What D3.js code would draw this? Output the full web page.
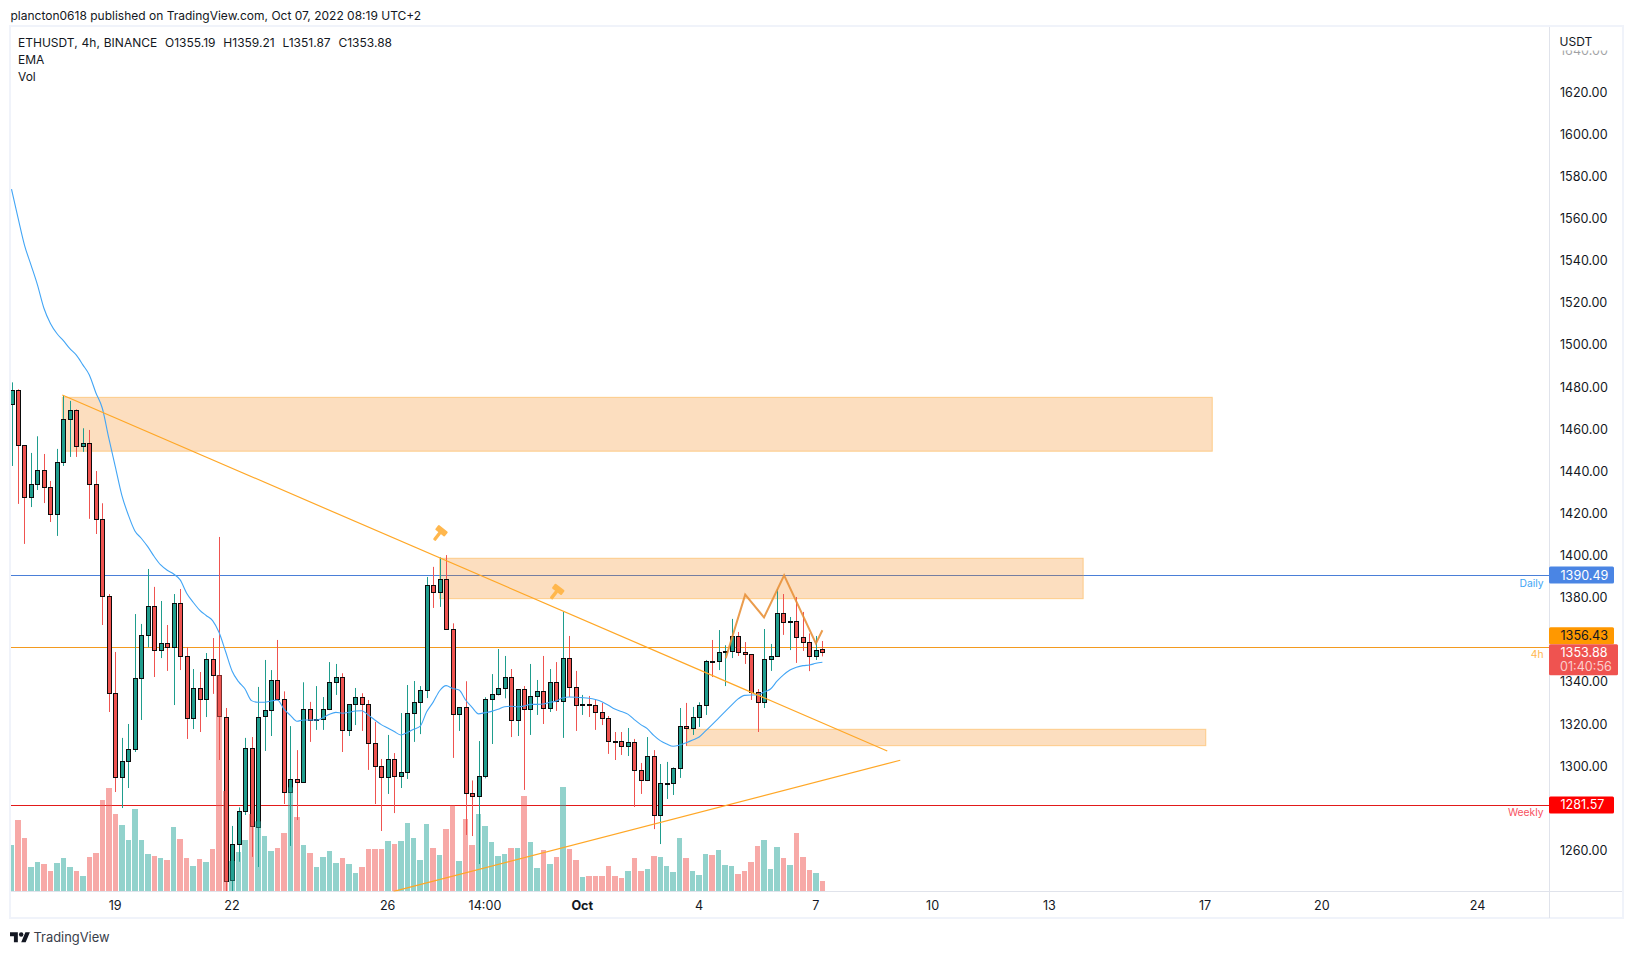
<!DOCTYPE html>
<html>
<head>
<meta charset="utf-8">
<script src="https://cdn.jsdelivr.net/npm/d3@7"></script>
<style>
html, body { margin: 0; padding: 0; background: #fff; overflow: hidden; }
text { font-family: Inter, "Liberation Sans", sans-serif; }
</style>
</head>
<body>
<div id="chart"></div>
<script>
// candle values, one entry per 4h candle
var opens = [
  1471.6,1478.2,1452.1,1427.4,1433.6,1440.3,1432.2,1419.4,1444.1,1464.5,
  1468.8,1451.7,1453.1,1433.6,1417.0,1380.4,1334.4,1294.5,1302.1,1307.8,
  1341.5,1361.9,1375.7,1354.8,1358.1,1356.2,1377.1,1351.9,1322.5,1336.7,
  1331.5,1350.5,1342.9,1323.3,1245.6,1262.7,1278.3,1308.3,1271.1,1323.3,
  1326.3,1340.5,1331.5,1287.4,1293.5,1292.1,1326.8,1321.5,1322.0,1326.8,
  1339.6,1342.0,1316.8,1329.1,1332.5,1329.1,1310.6,1299.7,1294.5,1303.0,
  1295.0,1296.8,1324.9,1330.1,1335.8,1385.6,1382.3,1388.5,1364.8,1324.4,
  1327.7,1286.9,1285.5,1295.0,1331.5,1333.9,1336.7,1342.0,1321.5,1336.3,
  1326.8,1332.9,1335.3,1327.2,1339.6,1330.6,1351.0,1337.2,1328.7,1329.1,
  1328.7,1325.3,1322.5,1311.6,1311.6,1309.2,1311.1,1297.8,1293.1,1304.4,
  1276.4,1291.6,1291.6,1298.7,1318.7,1317.7,1323.0,1328.7,1349.6,1349.6,
  1353.8,1354.3,1361.4,1353.8,1352.9,1334.8,1330.1,1350.5,1351.9,1372.3,
  1368.1,1368.5,1360.9,1358.6,1351.9,1355.19
];
var highs = [
  1482.0,1478.7,1452.1,1448.5,1456.4,1448.0,1435.2,1450.4,1476.0,1473.2,
  1469.2,1460.2,1459.4,1439.9,1424.6,1381.5,1354.0,1313.2,1319.8,1372.0,
  1367.3,1393.4,1384.9,1378.2,1366.8,1381.5,1383.9,1356.2,1345.9,1344.5,
  1353.5,1360.6,1408.6,1327.4,1271.4,1280.2,1313.2,1313.6,1337.4,1350.2,
  1345.4,1359.7,1335.3,1318.8,1307.4,1339.6,1330.3,1337.8,1332.6,1349.2,
  1348.3,1343.9,1329.1,1336.9,1334.4,1331.2,1320.8,1303.2,1314.6,1306.0,
  1325.0,1338.3,1340.2,1337.8,1389.6,1394.4,1398.9,1400.0,1367.6,1327.7,
  1340.1,1293.0,1311.7,1332.5,1343.5,1355.4,1352.1,1345.9,1336.3,1337.8,
  1348.3,1340.7,1352.1,1345.9,1349.2,1373.0,1361.6,1345.0,1333.6,1333.1,
  1331.2,1329.8,1323.6,1316.0,1316.0,1317.9,1312.7,1301.3,1313.6,1307.4,
  1300.8,1301.8,1299.2,1327.4,1329.8,1327.9,1330.1,1350.2,1359.7,1364.4,
  1357.2,1369.7,1363.5,1358.7,1352.9,1336.4,1364.9,1357.8,1383.9,1381.5,
  1370.6,1380.1,1373.0,1362.8,1361.6,1359.21
];
var lows = [
  1442.3,1424.3,1405.3,1422.8,1430.9,1424.7,1415.7,1409.1,1442.3,1446.6,
  1446.6,1449.0,1417.2,1410.0,1366.8,1325.5,1287.5,1279.9,1289.4,1306.5,
  1321.7,1356.2,1342.1,1351.1,1345.0,1328.8,1345.4,1312.7,1317.4,1316.0,
  1323.1,1334.1,1302.7,1240.5,1240.5,1254.4,1276.6,1256.7,1251.9,1307.0,
  1314.1,1331.0,1281.8,1261.9,1274.2,1292.1,1311.3,1317.0,1317.0,1326.4,
  1333.6,1306.5,1314.1,1319.3,1316.5,1298.0,1281.8,1269.0,1286.6,1277.5,
  1289.4,1293.7,1311.3,1315.0,1332.1,1374.9,1375.4,1364.8,1303.7,1316.5,
  1267.1,1266.6,1253.3,1294.0,1310.3,1333.4,1332.0,1313.6,1314.1,1288.5,
  1314.6,1324.1,1319.8,1325.5,1326.0,1313.2,1332.6,1316.5,1324.1,1323.1,
  1317.0,1319.3,1305.6,1302.7,1305.1,1304.6,1280.4,1286.6,1292.7,1269.9,
  1262.8,1284.2,1286.1,1294.2,1309.4,1314.6,1318.4,1324.1,1342.1,1345.4,
  1337.8,1351.1,1352.1,1348.3,1331.2,1316.0,1327.4,1345.0,1351.8,1362.1,
  1354.9,1348.8,1354.5,1344.9,1350.2,1351.87
];
var closes = [
  1478.2,1452.1,1427.4,1433.6,1440.3,1432.2,1419.4,1444.1,1464.5,1468.8,
  1451.7,1453.1,1433.6,1417.0,1380.4,1334.4,1294.5,1302.1,1307.8,1341.5,
  1361.9,1375.7,1354.8,1358.1,1356.2,1377.1,1351.9,1322.5,1336.7,1331.5,
  1350.5,1342.9,1323.3,1245.6,1262.7,1278.3,1308.3,1271.1,1323.3,1326.3,
  1340.5,1331.5,1287.4,1293.5,1292.1,1326.8,1321.5,1322.0,1326.8,1339.6,
  1342.0,1316.8,1329.1,1332.5,1329.1,1310.6,1299.7,1294.5,1303.0,1295.0,
  1296.8,1324.9,1330.1,1335.8,1385.6,1382.3,1388.5,1364.8,1324.4,1327.7,
  1286.9,1285.5,1295.0,1331.5,1333.9,1336.7,1342.0,1321.5,1336.3,1326.8,
  1332.9,1335.3,1327.2,1339.6,1330.6,1351.0,1337.2,1328.7,1329.1,1328.7,
  1325.3,1322.5,1311.6,1311.5,1309.2,1311.1,1297.8,1293.1,1304.4,1276.4,
  1291.6,1291.8,1298.7,1318.7,1317.7,1323.0,1328.7,1349.6,1349.4,1353.8,
  1354.3,1361.4,1353.8,1352.9,1334.8,1330.1,1350.5,1351.9,1372.3,1368.1,
  1368.5,1360.9,1358.6,1351.9,1354.8,1353.88
];
var volumes = [
  138,213,159,72,87,81,60,84,99,72,
  60,45,102,114,273,309,231,198,153,246,
  153,111,105,99,93,192,156,99,75,96,
  87,126,648,300,90,117,153,231,209,165,
  120,129,174,311,222,138,114,72,102,120,
  84,99,81,54,72,126,126,126,150,141,
  150,204,159,93,201,129,108,186,257,90,
  216,138,231,195,147,105,111,129,129,285,
  147,69,123,81,102,312,126,93,42,45,
  45,45,75,45,39,60,99,60,66,105,
  102,75,57,159,99,60,48,111,108,123,
  78,75,51,60,87,135,153,66,132,99,
  78,174,102,63,54,30
];
var ema = [
  1573.7,1560.2,1547.2,1537.8,1528.3,1517.2,1510.0,1505.2,1501.8,1498.0,
  1494.9,1490.3,1485.5,1477.1,1469.7,1455.5,1442.0,1428.5,1419.1,1411.6,
  1408.0,1404.0,1399.3,1395.3,1392.8,1391.0,1388.2,1381.9,1377.6,1373.9,
  1371.3,1368.9,1363.2,1354.2,1345.0,1339.9,1336.4,1330.9,1330.1,1330.1,
  1330.7,1331.2,1326.9,1323.9,1321.1,1321.7,1321.7,1321.7,1322.8,1324.4,
  1325.3,1324.9,1325.3,1326.0,1326.1,1324.1,1321.7,1319.5,1317.9,1316.2,
  1314.6,1315.7,1317.3,1318.8,1325.6,1330.2,1335.6,1338.0,1336.7,1335.9,
  1331.2,1327.7,1324.6,1325.2,1325.8,1326.8,1328.0,1328.2,1328.0,1328.3,
  1329.1,1329.1,1329.3,1330.1,1330.7,1332.3,1332.6,1332.5,1332.3,1332.0,
  1331.4,1330.4,1328.7,1326.9,1325.7,1324.5,1321.9,1319.5,1317.6,1314.4,
  1311.9,1310.3,1309.2,1309.8,1310.9,1312.2,1313.6,1316.5,1319.5,1322.6,
  1325.7,1328.8,1331.7,1333.4,1333.6,1333.6,1335.0,1336.4,1340.1,1343.1,
  1345.4,1346.7,1347.5,1347.8,1348.6,1349.1
];

// axis labels, positions given as candle number
var timeTicks = [16, 34, 58, 73, 88, 106, 124, 142, 160, 184, 202, 226];
var timeLabels = ["19", "22", "26", "14:00", "Oct", "4", "7", "10", "13", "17", "20", "24"];
var priceTicks = [1260, 1300, 1320, 1340, 1380, 1400, 1420, 1440, 1460, 1480, 1500, 1520, 1540, 1560, 1580, 1600, 1620, 1640];

// drawings on the chart, in candle number and price
var zoneStart = [7.83, 66, 104.1];
var zoneEnd = [185.1, 165.2, 184.1];
var zoneTop = [1474.9, 1398.5, 1317.3];
var zoneBottom = [1449.3, 1379.3, 1309.5];
var trendFall = [[7.83, 1476.0], [135.0, 1307.0]];
var trendRise = [[58.9, 1240.3], [137.0, 1302.6]];
var patternIdx = [110.1, 113.1, 116.0, 119.1, 124.0, 125.0];
var patternPrice = [1351.0, 1381.2, 1370.4, 1390.4, 1358.1, 1364.3];
var hammerIdx = [66, 84];
var hammerPrice = [1410.4, 1382.6];

var levelPrice = [1390.49, 1356.43, 1281.57];
var levelLabel = ["Daily", "4h", "Weekly"];
var lastPrice = 1353.88;

var svgWidth = 1633;
var svgHeight = 954;
var pane = { left: 11, right: 1549.5, top: 27, bottom: 891.5 };
var green = "#1f9d8d";
var red = "#ef5350";

var svg = d3.select("#chart").append("svg")
  .attr("width", svgWidth).attr("height", svgHeight)
  .style("display", "block");

var x = d3.scaleLinear().domain([0, 125]).range([11.5, 822.4]);
var y = d3.scaleLinear().domain([1300, 1620]).range([765.7, 91.7]);
var yVol = d3.scaleLinear().domain([0, 600]).range([891, 691]);

svg.append("defs").append("clipPath").attr("id", "paneClip").append("rect")
  .attr("x", pane.left).attr("y", pane.top)
  .attr("width", pane.right - pane.left).attr("height", pane.bottom - pane.top);

// header and footer text
svg.append("text").attr("x", 10.5).attr("y", 19.5)
  .attr("font-size", 12).attr("fill", "#131722")
  .text("plancton0618 published on TradingView.com, Oct 07, 2022 08:19 UTC+2");

var legend = ["ETHUSDT, 4h, BINANCE\u00a0\u00a0O1355.19\u00a0\u00a0H1359.21\u00a0\u00a0L1351.87\u00a0\u00a0C1353.88", "EMA", "Vol"];
svg.selectAll(".legend").data(legend).enter().append("text")
  .attr("class", "legend")
  .attr("x", 18).attr("y", (d, i) => 47 + i * 17)
  .attr("font-size", 12).attr("word-spacing", 0.55).attr("fill", "#131722")
  .text(d => d);

// frame
svg.append("rect").attr("x", 10).attr("y", 26).attr("width", 1613).attr("height", 892)
  .attr("fill", "none").attr("stroke", "#f0f3fa").attr("stroke-width", 2);
svg.append("line").attr("x1", pane.right).attr("x2", pane.right).attr("y1", 27).attr("y2", 918)
  .attr("stroke", "#e0e3eb");
svg.append("line").attr("x1", 11).attr("x2", 1622).attr("y1", pane.bottom).attr("y2", pane.bottom)
  .attr("stroke", "#e0e3eb");

var chartGroup = svg.append("g").attr("clip-path", "url(#paneClip)");

// horizontal levels
var levelColor = ["#4a7fd8", "#f39a1f", "#e21a1a"];
chartGroup.selectAll(".level").data(levelPrice).enter().append("line")
  .attr("class", "level")
  .attr("x1", pane.left).attr("x2", pane.right)
  .attr("y1", d => Math.round(y(d)) + 0.5).attr("y2", d => Math.round(y(d)) + 0.5)
  .attr("stroke", (d, i) => levelColor[i]).attr("stroke-width", 1);

// zones tint the levels but stay under the candles
chartGroup.selectAll(".zone").data(zoneStart).enter().append("rect")
  .attr("class", "zone")
  .attr("x", (d, i) => x(zoneStart[i]))
  .attr("width", (d, i) => x(zoneEnd[i]) - x(zoneStart[i]))
  .attr("y", (d, i) => y(zoneTop[i]))
  .attr("height", (d, i) => y(zoneBottom[i]) - y(zoneTop[i]))
  .attr("fill", "rgba(245,124,0,0.25)")
  .attr("stroke", "rgba(255,167,38,0.45)").attr("stroke-width", 1);

// candles
var candleIdx = d3.range(opens.length);
var isUp = i => closes[i] >= opens[i];

chartGroup.selectAll(".wick").data(candleIdx).enter().append("line")
  .attr("class", "wick")
  .attr("x1", i => Math.round(x(i)) + 0.5).attr("x2", i => Math.round(x(i)) + 0.5)
  .attr("y1", i => y(highs[i])).attr("y2", i => y(lows[i]))
  .attr("stroke", i => isUp(i) ? green : red).attr("stroke-width", 1);

chartGroup.selectAll(".body").data(candleIdx).enter().append("rect")
  .attr("class", "body")
  .attr("x", i => Math.round(x(i)) - 1.5)
  .attr("width", 4)
  .attr("y", i => Math.round(y(Math.max(opens[i], closes[i]))) + 0.5)
  .attr("height", i => Math.max(Math.round(Math.abs(y(opens[i]) - y(closes[i]))), 1))
  .attr("fill", i => isUp(i) ? green : red)
  .attr("stroke", "#0b0b0b").attr("stroke-width", 1);

// volume sits on top of the candles, half transparent, one pixel gap between bars
var volLeft = i => Math.round(x(i) - 2.7);
chartGroup.selectAll(".vol").data(candleIdx).enter().append("rect")
  .attr("class", "vol")
  .attr("x", i => volLeft(i))
  .attr("width", i => volLeft(i + 1) - volLeft(i) - 1)
  .attr("y", i => yVol(volumes[i]))
  .attr("height", i => yVol(0) - yVol(volumes[i]))
  .attr("fill", i => isUp(i) ? "#26a69a" : "#ef5350")
  .attr("opacity", 0.5);

// ema
var emaLine = d3.line().x((d, i) => x(i)).y(d => y(d)).curve(d3.curveMonotoneX);
chartGroup.append("path").datum(ema)
  .attr("d", emaLine)
  .attr("fill", "none").attr("stroke", "#42a5f5").attr("stroke-width", 1.1);

// trend lines
var priceLine = d3.line().x(d => x(d[0])).y(d => y(d[1]));
[trendFall, trendRise].forEach(function(t) {
  chartGroup.append("path").attr("d", priceLine(t))
    .attr("fill", "none").attr("stroke", "#ffa726").attr("stroke-width", 1.2);
});

// the hand drawn double top
var pattern = d3.zip(patternIdx, patternPrice);
chartGroup.append("path").attr("d", priceLine(pattern))
  .attr("fill", "none").attr("stroke", "#e8913a").attr("stroke-opacity", 0.9)
  .attr("stroke-width", 2).attr("stroke-linejoin", "miter");

// hammer signs
var hammers = chartGroup.selectAll(".hammer").data(hammerIdx).enter().append("g")
  .attr("class", "hammer")
  .attr("transform", (d, i) => `translate(${x(d)},${y(hammerPrice[i])}) rotate(38)`)
  .attr("fill", "#ffb74d");
hammers.append("rect").attr("x", -6).attr("y", -6).attr("width", 12).attr("height", 6).attr("rx", 1);
hammers.append("rect").attr("x", -1.7).attr("y", -1).attr("width", 3.4).attr("height", 10).attr("rx", 1.2);

// level captions under the lines
var captionColor = ["#42a5f5", "#ffb74d", "#f7525f"];
svg.selectAll(".caption").data(levelLabel).enter().append("text")
  .attr("class", "caption")
  .attr("x", 1543.5)
  .attr("y", (d, i) => y(levelPrice[i]) + 8)
  .attr("dy", "0.35em")
  .attr("text-anchor", "end").attr("font-size", 10.3)
  .attr("fill", (d, i) => captionColor[i])
  .text(d => d);

// axes
var rightAxis = d3.axisRight(y).tickValues(priceTicks).tickFormat(d3.format(".2f")).tickSize(0).tickPadding(10.5);
var priceAxis = svg.append("g").attr("transform", `translate(${pane.right},0.5)`).call(rightAxis);
priceAxis.select(".domain").remove();
priceAxis.selectAll("text")
  .attr("font-size", 12.6).attr("font-family", "Inter").attr("fill", "#131722")
  .attr("opacity", d => d === 1640 ? 0.4 : 1);

var bottomAxis = d3.axisBottom(x).tickValues(timeTicks).tickFormat((d, i) => timeLabels[i]).tickSize(0).tickPadding(10);
var timeAxis = svg.append("g").attr("transform", `translate(-0.6,${pane.bottom})`).call(bottomAxis);
timeAxis.select(".domain").remove();
timeAxis.selectAll("text")
  .attr("font-size", 12.6).attr("font-family", "Inter").attr("fill", "#131722")
  .attr("font-weight", (d, i) => timeLabels[i] === "Oct" ? 700 : 400);

// currency title hides the clipped top tick
svg.append("rect").attr("x", 1551).attr("y", 27).attr("width", 70).attr("height", 23.5).attr("fill", "#fff");
svg.append("text").attr("x", 1559.5).attr("y", 45.5)
  .attr("font-size", 12).attr("fill", "#131722").text("USDT");

// price tags, shift moves a tag clear of the last price tag
function priceTag(price, fill, textFill, shift) {
  var cy = y(price) + shift;
  svg.append("rect").attr("x", 1549).attr("y", cy - 8.5).attr("width", 65).attr("height", 17)
    .attr("rx", 1.5).attr("fill", fill);
  svg.append("text").attr("x", 1560.5).attr("y", cy).attr("dy", "0.35em")
    .attr("font-size", 12.6).attr("fill", textFill).text(d3.format(".2f")(price));
}
priceTag(levelPrice[0], "#4a85e4", "#fff", 0);
priceTag(levelPrice[1], "#ff9800", "#131722", -11);
priceTag(levelPrice[2], "#ff0000", "#fff", 0.5);

var lastY = y(lastPrice);
svg.append("rect").attr("x", 1549).attr("y", lastY - 8).attr("width", 69).attr("height", 31)
  .attr("rx", 1.5).attr("fill", "#ef5350");
svg.append("text").attr("x", 1560.5).attr("y", lastY + 0.5).attr("dy", "0.35em")
  .attr("font-size", 12.6).attr("fill", "#fff").text(d3.format(".2f")(lastPrice));
svg.append("text").attr("x", 1560).attr("y", lastY + 14.5).attr("dy", "0.35em")
  .attr("font-size", 12.6).attr("fill", "#fff").attr("fill-opacity", 0.72).text("01:40:56");

// footer logo
var logo = svg.append("g").attr("transform", "translate(10,930) scale(0.56)").attr("fill", "#131722");
logo.append("path").attr("d", "M14 22H7V11H0V4h14v18zM28 22h-8l7.5-18h8L28 22z");
logo.append("circle").attr("cx", 20).attr("cy", 8).attr("r", 4);
svg.append("text").attr("x", 33.5).attr("y", 941.5)
  .attr("font-size", 12.9).attr("fill", "#3a3e4a").text("TradingView");
</script>
</body>
</html>
